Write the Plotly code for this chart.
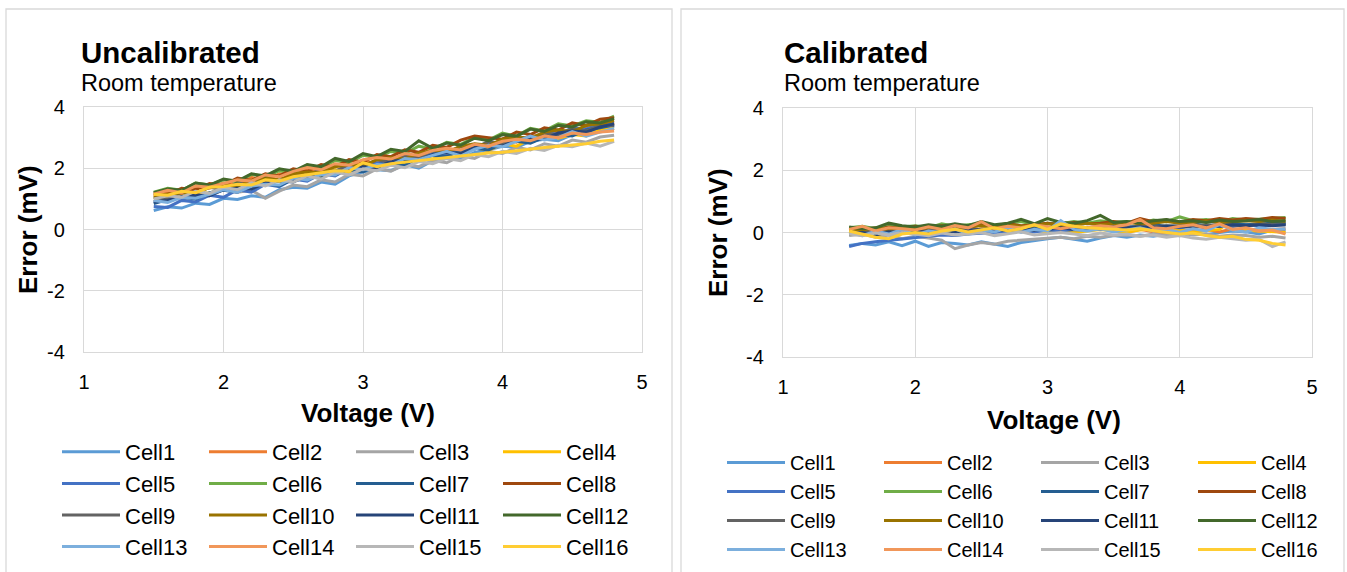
import plotly.graph_objects as go

# ---------------- data ----------------
voltage = [1.5, 1.6, 1.7, 1.8, 1.9, 2.0, 2.1, 2.2, 2.3, 2.4, 2.5, 2.6, 2.7, 2.8, 2.9, 3.0, 3.1,
           3.2, 3.3, 3.4, 3.5, 3.6, 3.7, 3.8, 3.9, 4.0, 4.1, 4.2, 4.3, 4.4, 4.5, 4.6, 4.7, 4.8]

cell_names = ["Cell1", "Cell2", "Cell3", "Cell4", "Cell5", "Cell6", "Cell7", "Cell8",
              "Cell9", "Cell10", "Cell11", "Cell12", "Cell13", "Cell14", "Cell15", "Cell16"]

# Uncalibrated error (mV)
unc_cell1 = [0.62, 0.74, 0.70, 0.86, 0.82, 1.02, 0.98, 1.10, 1.05, 1.30, 1.38, 1.35, 1.55, 1.48, 1.75, 1.88, 1.95,
             1.92, 2.12, 2.00, 2.25, 2.38, 2.30, 2.52, 2.60, 2.72, 2.68, 2.88, 2.95, 2.90, 3.10, 3.18, 3.25, 3.38]
unc_cell2 = [1.10, 1.25, 1.18, 1.38, 1.35, 1.52, 1.45, 1.70, 1.58, 1.82, 1.78, 1.95, 1.88, 2.10, 2.02, 2.25, 2.15,
             2.38, 2.30, 2.48, 2.42, 2.62, 2.55, 2.78, 2.70, 2.95, 2.85, 3.08, 3.00, 3.22, 3.15, 3.35, 3.30, 3.48]
unc_cell3 = [0.92, 1.05, 0.98, 1.15, 1.10, 1.30, 1.22, 1.28, 1.02, 1.25, 1.45, 1.40, 1.62, 1.55, 1.80, 1.75, 1.98,
             1.90, 2.12, 2.05, 2.25, 2.18, 2.40, 2.32, 2.55, 2.48, 2.68, 2.60, 2.80, 2.72, 2.92, 2.85, 3.02, 3.08]
unc_cell4 = [1.00, 1.12, 1.05, 1.22, 1.18, 1.38, 1.30, 1.52, 1.45, 1.68, 1.60, 1.80, 1.72, 1.95, 1.85, 2.10, 2.02,
             2.25, 2.15, 2.38, 2.30, 2.52, 2.45, 2.68, 2.58, 2.80, 2.72, 2.95, 3.15, 2.98, 3.10, 3.05, 3.25, 3.30]
unc_cell5 = [0.75, 0.72, 0.95, 0.90, 1.12, 1.05, 1.30, 1.22, 1.48, 1.40, 1.65, 1.58, 1.82, 1.75, 2.00, 1.92, 2.18,
             2.10, 2.35, 2.28, 2.52, 2.45, 2.70, 2.62, 2.85, 2.78, 3.02, 2.95, 3.18, 3.10, 3.32, 3.28, 3.45, 3.48]
unc_cell6 = [1.22, 1.35, 1.28, 1.52, 1.45, 1.62, 1.55, 1.80, 1.72, 1.92, 1.85, 2.10, 2.02, 2.25, 2.18, 2.42, 2.35,
             2.55, 2.48, 2.72, 2.62, 2.85, 2.78, 3.00, 2.92, 3.15, 3.05, 3.30, 3.22, 3.45, 3.38, 3.55, 3.50, 3.70]
unc_cell7 = [0.85, 0.98, 1.05, 1.00, 1.20, 1.28, 1.22, 1.45, 1.50, 1.42, 1.65, 1.72, 1.68, 1.90, 1.95, 1.88, 2.12,
             2.18, 2.10, 2.35, 2.42, 2.38, 2.58, 2.65, 2.60, 2.80, 2.88, 2.82, 3.02, 3.10, 3.05, 3.25, 3.32, 3.42]
unc_cell8 = [1.18, 1.15, 1.35, 1.30, 1.50, 1.45, 1.68, 1.60, 1.82, 1.75, 1.98, 1.90, 2.12, 2.05, 2.28, 2.20, 2.45,
             2.38, 2.60, 2.52, 2.75, 2.68, 2.92, 3.05, 3.00, 2.95, 3.18, 3.10, 3.32, 3.25, 3.48, 3.40, 3.60, 3.65]
unc_cell9 = [1.05, 1.00, 1.22, 1.15, 1.38, 1.30, 1.52, 1.45, 1.68, 1.60, 1.82, 1.75, 1.98, 1.90, 2.12, 2.05, 2.28,
             2.20, 2.42, 2.35, 2.58, 2.50, 2.72, 2.65, 2.88, 2.80, 3.02, 2.95, 3.15, 3.08, 3.30, 3.22, 3.40, 3.40]
unc_cell10 = [1.05, 1.15, 1.20, 1.18, 1.38, 1.45, 1.40, 1.60, 1.68, 1.62, 1.82, 1.88, 1.85, 2.05, 2.12, 2.08, 2.28,
              2.35, 2.30, 2.50, 2.58, 2.52, 2.72, 2.80, 2.75, 2.95, 3.02, 2.98, 3.18, 3.25, 3.20, 3.40, 3.45, 3.55]
unc_cell11 = [0.90, 0.95, 1.08, 1.12, 1.10, 1.30, 1.35, 1.32, 1.52, 1.58, 1.55, 1.75, 1.82, 1.78, 1.98, 2.05, 2.02,
              2.22, 2.28, 2.25, 2.45, 2.52, 2.48, 2.68, 2.75, 2.72, 2.92, 2.98, 2.95, 3.15, 3.22, 3.18, 3.35, 3.45]
unc_cell12 = [1.20, 1.32, 1.28, 1.52, 1.45, 1.65, 1.58, 1.82, 1.75, 1.98, 1.90, 2.12, 2.05, 2.32, 2.22, 2.48, 2.38,
              2.62, 2.55, 2.90, 2.65, 2.82, 2.75, 2.98, 2.90, 3.10, 3.05, 3.28, 3.20, 3.40, 3.35, 3.52, 3.48, 3.62]
unc_cell13 = [0.95, 0.88, 1.05, 1.02, 1.15, 1.30, 1.22, 1.42, 1.48, 1.45, 1.68, 1.62, 1.80, 1.78, 2.02, 1.95, 2.12,
              2.10, 2.32, 2.28, 2.42, 2.55, 2.40, 2.62, 2.75, 2.70, 2.88, 3.05, 2.92, 3.00, 3.20, 3.05, 3.18, 3.30]
unc_cell14 = [1.15, 1.28, 1.20, 1.42, 1.38, 1.50, 1.62, 1.58, 1.78, 1.72, 1.90, 2.02, 1.95, 2.15, 2.10, 2.28, 2.35,
              2.30, 2.48, 2.42, 2.58, 2.65, 2.60, 2.78, 2.72, 2.88, 2.95, 2.90, 3.05, 3.00, 3.15, 3.10, 3.18, 3.22]
unc_cell15 = [1.00, 1.10, 1.05, 1.25, 1.18, 1.38, 1.30, 1.52, 1.42, 1.62, 1.55, 1.75, 1.65, 1.88, 1.78, 1.98, 1.92,
              2.10, 2.02, 2.22, 2.15, 2.32, 2.25, 2.45, 2.38, 2.55, 2.48, 2.65, 2.58, 2.75, 2.70, 2.82, 2.72, 2.88]
unc_cell16 = [1.15, 1.12, 1.25, 1.20, 1.38, 1.40, 1.48, 1.45, 1.62, 1.58, 1.72, 1.78, 1.85, 1.92, 1.90, 2.18, 2.05,
              2.15, 2.20, 2.25, 2.30, 2.35, 2.38, 2.45, 2.50, 2.52, 2.58, 2.62, 2.68, 2.72, 2.75, 2.80, 2.88, 2.92]

# Calibrated error (mV)
cal_cell1 = [-0.42, -0.35, -0.40, -0.30, -0.42, -0.28, -0.45, -0.32, -0.35, -0.40, -0.30, -0.38, -0.45, -0.32, -0.25, -0.20, -0.15,
             -0.22, -0.28, -0.18, -0.10, -0.15, -0.08, -0.12, -0.05, -0.10, -0.02, -0.08, 0.00, 0.05, 0.02, -0.05, 0.08, 0.05]
cal_cell2 = [0.05, 0.12, 0.00, 0.10, 0.02, 0.08, -0.05, 0.10, 0.05, 0.00, 0.12, 0.08, 0.02, 0.10, 0.05, 0.12, 0.08,
             0.02, 0.10, 0.15, 0.05, 0.00, 0.10, 0.02, -0.10, -0.05, 0.05, 0.10, 0.02, 0.12, 0.08, 0.05, 0.10, 0.12]
cal_cell3 = [-0.10, -0.05, -0.15, -0.08, -0.20, -0.12, -0.18, -0.25, -0.52, -0.40, -0.32, -0.38, -0.28, -0.25, -0.22, -0.18, -0.15,
             -0.20, -0.12, -0.15, -0.10, -0.08, -0.12, -0.05, -0.10, -0.02, -0.08, -0.05, -0.12, -0.08, -0.10, -0.15, -0.12, -0.18]
cal_cell4 = [-0.05, 0.02, -0.10, 0.05, -0.02, 0.08, 0.00, -0.05, 0.05, 0.10, 0.02, 0.08, 0.00, 0.05, 0.10, 0.02, 0.08,
             0.00, 0.05, 0.10, 0.05, 0.02, 0.08, 0.12, 0.05, 0.10, 0.02, 0.05, 0.10, 0.40, 0.08, 0.05, 0.02, 0.00]
cal_cell5 = [-0.45, -0.35, -0.30, -0.25, -0.22, -0.15, -0.12, -0.08, -0.10, -0.05, -0.02, 0.00, 0.02, 0.05, 0.02, 0.08, 0.05,
             0.10, 0.08, 0.12, 0.10, 0.15, 0.12, 0.15, 0.18, 0.15, 0.20, 0.18, 0.22, 0.20, 0.25, 0.22, 0.25, 0.28]
cal_cell6 = [0.15, 0.20, 0.12, 0.25, 0.18, 0.22, 0.15, 0.28, 0.20, 0.25, 0.30, 0.22, 0.28, 0.35, 0.25, 0.30, 0.28,
             0.35, 0.30, 0.38, 0.32, 0.35, 0.30, 0.40, 0.35, 0.50, 0.38, 0.42, 0.35, 0.45, 0.40, 0.42, 0.45, 0.48]
cal_cell7 = [0.00, 0.05, -0.02, 0.08, 0.02, 0.05, 0.10, 0.05, 0.12, 0.08, 0.10, 0.15, 0.10, 0.12, 0.18, 0.12, 0.15,
             0.20, 0.15, 0.18, 0.22, 0.18, 0.20, 0.25, 0.20, 0.22, 0.28, 0.22, 0.25, 0.30, 0.25, 0.28, 0.30, 0.28]
cal_cell8 = [0.10, 0.15, 0.08, 0.18, 0.12, 0.20, 0.15, 0.22, 0.18, 0.15, 0.25, 0.20, 0.28, 0.22, 0.25, 0.30, 0.25,
             0.32, 0.28, 0.30, 0.35, 0.30, 0.45, 0.35, 0.40, 0.32, 0.42, 0.38, 0.45, 0.40, 0.45, 0.42, 0.48, 0.45]
cal_cell9 = [0.05, 0.00, 0.08, 0.02, 0.10, 0.05, 0.12, 0.08, 0.05, 0.12, 0.08, 0.15, 0.10, 0.12, 0.08, 0.15, 0.12,
             0.18, 0.15, 0.12, 0.18, 0.15, 0.20, 0.18, 0.22, 0.20, 0.18, 0.25, 0.22, 0.25, 0.20, 0.28, 0.25, 0.25]
cal_cell10 = [0.12, 0.08, 0.15, 0.10, 0.18, 0.12, 0.15, 0.20, 0.15, 0.18, 0.22, 0.18, 0.25, 0.20, 0.22, 0.28, 0.22,
              0.25, 0.30, 0.25, 0.28, 0.32, 0.28, 0.30, 0.35, 0.30, 0.32, 0.38, 0.32, 0.35, 0.38, 0.35, 0.40, 0.35]
cal_cell11 = [-0.05, 0.00, -0.08, 0.02, -0.02, 0.05, 0.00, 0.08, 0.02, 0.05, 0.10, 0.05, 0.08, 0.12, 0.08, 0.10, 0.15,
              0.10, 0.12, 0.18, 0.12, 0.15, 0.18, 0.15, 0.20, 0.18, 0.22, 0.18, 0.20, 0.25, 0.22, 0.25, 0.22, 0.25]
cal_cell12 = [0.18, 0.12, 0.15, 0.30, 0.22, 0.18, 0.25, 0.20, 0.28, 0.22, 0.35, 0.25, 0.30, 0.42, 0.28, 0.45, 0.32,
              0.30, 0.38, 0.55, 0.32, 0.35, 0.30, 0.38, 0.42, 0.35, 0.38, 0.32, 0.40, 0.35, 0.38, 0.42, 0.35, 0.38]
cal_cell13 = [0.00, -0.10, 0.05, -0.05, 0.10, -0.08, 0.05, 0.00, 0.12, -0.05, 0.08, 0.02, 0.15, 0.00, 0.10, 0.05, 0.38,
              0.10, 0.05, 0.12, 0.02, 0.08, 0.15, 0.05, 0.10, 0.00, 0.12, 0.05, 0.25, 0.08, 0.02, 0.15, 0.10, 0.12]
cal_cell14 = [0.10, 0.20, 0.05, 0.15, 0.12, 0.08, 0.18, 0.10, 0.22, 0.15, 0.35, 0.12, 0.20, 0.15, 0.25, 0.18, 0.12,
              0.20, 0.15, 0.22, 0.18, 0.25, 0.42, 0.15, 0.12, 0.20, 0.25, 0.15, 0.28, 0.10, 0.15, 0.05, 0.08, -0.05]
cal_cell15 = [-0.05, -0.10, -0.02, -0.08, 0.00, -0.05, -0.10, -0.02, -0.08, -0.05, 0.00, -0.10, -0.05, 0.02, -0.08, -0.05, 0.00,
              -0.05, -0.10, -0.02, -0.08, -0.05, -0.12, -0.08, -0.15, -0.10, -0.18, -0.22, -0.15, -0.20, -0.25, -0.22, -0.45, -0.30]
cal_cell16 = [0.05, -0.05, -0.15, -0.20, -0.05, 0.00, -0.05, 0.05, 0.10, 0.02, 0.08, 0.15, 0.05, 0.12, 0.25, 0.10, 0.28,
              0.20, 0.15, 0.12, 0.10, 0.08, 0.12, 0.05, 0.00, -0.05, -0.02, -0.10, -0.15, -0.12, -0.22, -0.25, -0.35, -0.40]

uncalibrated = [unc_cell1, unc_cell2, unc_cell3, unc_cell4, unc_cell5, unc_cell6, unc_cell7, unc_cell8,
                unc_cell9, unc_cell10, unc_cell11, unc_cell12, unc_cell13, unc_cell14, unc_cell15, unc_cell16]
calibrated = [cal_cell1, cal_cell2, cal_cell3, cal_cell4, cal_cell5, cal_cell6, cal_cell7, cal_cell8,
              cal_cell9, cal_cell10, cal_cell11, cal_cell12, cal_cell13, cal_cell14, cal_cell15, cal_cell16]

x_ticks = [1, 2, 3, 4, 5]
x_tick_labels = ["1", "2", "3", "4", "5"]
y_ticks = [-4, -2, 0, 2, 4]
y_tick_labels = ["-4", "-2", "0", "2", "4"]

# ---------------- style ----------------
colors = ["#5B9BD5", "#ED7D31", "#A5A5A5", "#FFC000", "#4472C4", "#70AD47", "#255E91", "#9E480E",
          "#636363", "#997300", "#264478", "#43682B", "#7CAFDD", "#F1975A", "#B7B7B7", "#FFCD33"]
FONT = "Liberation Sans, Arial, sans-serif"
GRID = "#D9D9D9"
W, H = 1347, 572


def fx(p):
    return p / W


def fy(p):
    return 1 - p / H


fig = go.Figure()

panels = [
    dict(data=uncalibrated, xa="x", ya="y", leg="legend", grp="L"),
    dict(data=calibrated, xa="x2", ya="y2", leg="legend2", grp="R"),
]
for p in panels:
    for i, (name, ys) in enumerate(zip(cell_names, p["data"])):
        fig.add_trace(go.Scatter(
            x=voltage, y=ys, name=name, mode="lines",
            line=dict(color=colors[i], width=3),
            xaxis=p["xa"], yaxis=p["ya"], legend=p["leg"],
            legendgroup=f"{p['grp']}{i % 4}",
        ))

axis_common = dict(
    showgrid=True, gridcolor=GRID, gridwidth=1.3,
    showline=True, linecolor=GRID, linewidth=1.3, mirror=True,
    zeroline=False, ticks="", tickfont=dict(family=FONT, size=20, color="#000000"),
    fixedrange=True, automargin=False,
)

fig.update_layout(
    width=W, height=H,
    margin=dict(l=0, r=0, t=0, b=0, autoexpand=False),
    paper_bgcolor="white", plot_bgcolor="white",
    font=dict(family=FONT, color="#000000"),
    showlegend=True,
    xaxis=dict(domain=[fx(84), fx(642)], range=[1, 5], tickvals=x_ticks, ticktext=x_tick_labels,
               anchor="y", ticklabelstandoff=12, **axis_common),
    yaxis=dict(domain=[fy(352), fy(107)], range=[-4, 4], tickvals=y_ticks, ticktext=y_tick_labels,
               anchor="x", ticklabelstandoff=14, **axis_common),
    xaxis2=dict(domain=[fx(783), fx(1312)], range=[1, 5], tickvals=x_ticks, ticktext=x_tick_labels,
                anchor="y2", ticklabelstandoff=12, **axis_common),
    yaxis2=dict(domain=[fy(357), fy(108)], range=[-4, 4], tickvals=y_ticks, ticktext=y_tick_labels,
                anchor="x2", ticklabelstandoff=14, **axis_common),
    legend=dict(orientation="h", traceorder="grouped", x=fx(57), y=fy(431),
                xanchor="left", yanchor="top", itemwidth=58, entrywidth=74,
                tracegroupgap=0, font=dict(family=FONT, size=22, color="#000000"),
                bgcolor="rgba(0,0,0,0)"),
    legend2=dict(orientation="h", traceorder="grouped", x=fx(722), y=fy(443),
                 xanchor="left", yanchor="top", itemwidth=58, entrywidth=84,
                 tracegroupgap=0, font=dict(family=FONT, size=20, color="#000000"),
                 bgcolor="rgba(0,0,0,0)"),
)

# panel borders
for x0, x1 in [(6, 672), (681, 1344)]:
    fig.add_shape(type="rect", xref="paper", yref="paper", x0=fx(x0), x1=fx(x1), y0=-0.1, y1=fy(9),
                  line=dict(color=GRID, width=1.3), fillcolor="rgba(0,0,0,0)", layer="below")

# titles and axis titles
texts = [
    dict(text="Uncalibrated", x=fx(79), y=fy(52), size=29.5, bold=True),
    dict(text="Room temperature", x=fx(79), y=fy(83), size=23.5, bold=False),
    dict(text="Calibrated", x=fx(782), y=fy(52), size=29.5, bold=True),
    dict(text="Room temperature", x=fx(782), y=fy(83), size=23.5, bold=False),
]
for t in texts:
    fig.add_annotation(text=t["text"], x=t["x"], y=t["y"], xref="paper", yref="paper",
                       xanchor="left", yanchor="middle", showarrow=False,
                       font=dict(family=FONT, size=t["size"], color="#000000",
                                 weight="bold" if t["bold"] else "normal"))

axis_titles = [
    dict(text="Voltage (V)", x=fx(368), y=fy(413), angle=0),
    dict(text="Error (mV)", x=fx(28), y=fy(230), angle=-90),
    dict(text="Voltage (V)", x=fx(1054), y=fy(420), angle=0),
    dict(text="Error (mV)", x=fx(718), y=fy(233), angle=-90),
]
for t in axis_titles:
    fig.add_annotation(text=t["text"], x=t["x"], y=t["y"], xref="paper", yref="paper",
                       xanchor="center", yanchor="middle", showarrow=False, textangle=t["angle"],
                       font=dict(family=FONT, size=26, color="#000000", weight="bold"))

fig.write_html(
    "out.html",
    config={"displayModeBar": False},
    post_script="document.body.style.margin='0';document.body.style.overflow='hidden';"
                "document.documentElement.style.overflow='hidden';",
)
